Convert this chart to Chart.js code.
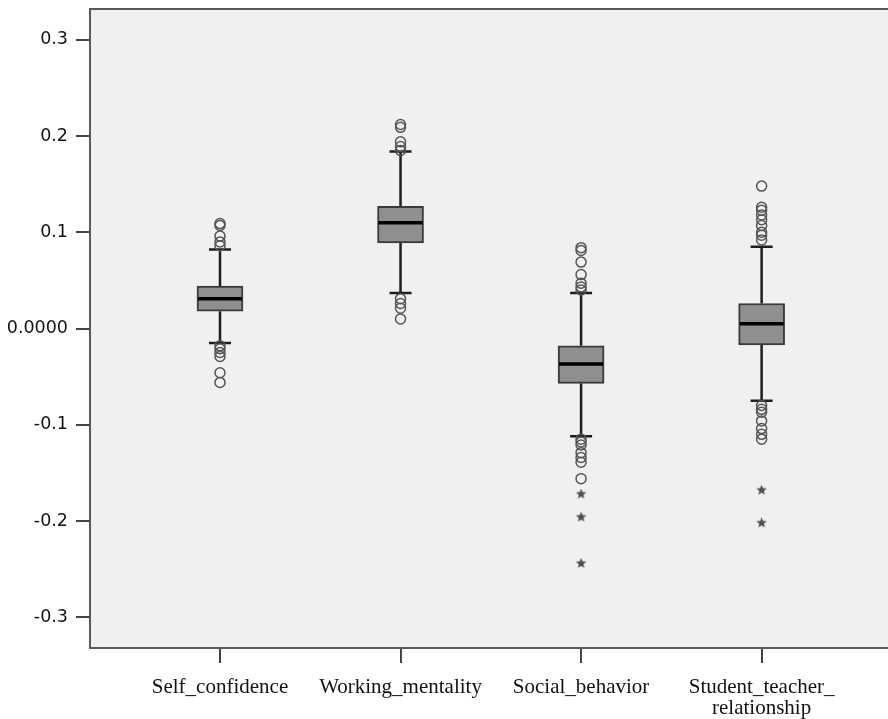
<!DOCTYPE html>
<html>
<head>
<meta charset="utf-8">
<script src="https://cdn.jsdelivr.net/npm/chart.js@4.4.1/dist/chart.umd.min.js"></script>
<style>
  html, body { margin: 0; padding: 0; background: #ffffff; }
  canvas { display: block; }
</style>
</head>
<body>
<canvas id="boxplot" width="888" height="719"></canvas>
<script>
// categorias y estadisticos
const categories = ['Self_confidence', 'Working_mentality', 'Social_behavior', ['Student_teacher_', 'relationship']];
const q1 = [0.018, 0.089, -0.057, -0.017];
const q3 = [0.044, 0.127, -0.018, 0.026];
const medians = [0.031, 0.110, -0.037, 0.005];
const whiskerLow = [-0.015, 0.037, -0.112, -0.075];
const whiskerHigh = [0.082, 0.184, 0.037, 0.085];

// valores atipicos (circulos) y extremos (estrellas)
const outliersSelf = [0.109, 0.107, 0.096, 0.090, 0.086, -0.018, -0.021, -0.025, -0.029, -0.046, -0.056];
const outliersWorking = [0.212, 0.209, 0.194, 0.189, 0.185, 0.031, 0.026, 0.021, 0.010];
const outliersSocial = [0.084, 0.081, 0.069, 0.056, 0.047, 0.043, 0.040, -0.115, -0.118, -0.121, -0.129, -0.134, -0.139, -0.156];
const outliersStudent = [0.148, 0.126, 0.123, 0.118, 0.113, 0.107, 0.100, 0.097, 0.092, -0.080, -0.084, -0.087, -0.096, -0.104, -0.110, -0.115];
const extremesSocial = [-0.172, -0.196, -0.244];
const extremesStudent = [-0.168, -0.202];

const yTicks = [-0.3, -0.2, -0.1, 0, 0.1, 0.2, 0.3];
const xTicks = [1, 2, 3, 4];

// puntos para el scatter
const circlePoints = [outliersSelf, outliersWorking, outliersSocial, outliersStudent]
  .flatMap((vals, i) => vals.map((v) => ({ x: i + 1, y: v })));
const starPoints = [[], [], extremesSocial, extremesStudent]
  .flatMap((vals, i) => vals.map((v) => ({ x: i + 1, y: v })));

// estrella pequeña para los extremos
function makeStar(size, color) {
  const c = document.createElement('canvas');
  c.width = size; c.height = size;
  const g = c.getContext('2d');
  const r = size / 2, ri = r * 0.45;
  g.beginPath();
  for (let k = 0; k < 10; k++) {
    const rad = k % 2 === 0 ? r : ri;
    const a = -Math.PI / 2 + k * Math.PI / 5;
    g.lineTo(r + rad * Math.cos(a), r + rad * Math.sin(a));
  }
  g.closePath();
  g.fillStyle = color;
  g.fill();
  return c;
}

// fondo gris y marco del area de datos
const framePlugin = {
  id: 'frame',
  beforeDraw(chart) {
    const { ctx, chartArea: a } = chart;
    ctx.save();
    ctx.fillStyle = '#f0f0f0';
    ctx.fillRect(a.left, a.top, a.right - a.left, a.bottom - a.top);
    ctx.restore();
  },
  afterDraw(chart) {
    const { ctx, chartArea: a } = chart;
    ctx.save();
    ctx.strokeStyle = '#5a5a5a';
    ctx.lineWidth = 2;
    ctx.strokeRect(a.left, a.top, a.right - a.left + 2, a.bottom - a.top);
    ctx.restore();
  }
};

// bigotes y medianas usando las escalas del grafico
const whiskerPlugin = {
  id: 'whiskers',
  beforeDatasetsDraw(chart) {
    const { ctx, scales: { x, y } } = chart;
    ctx.save();
    ctx.strokeStyle = '#1e1e1e';
    ctx.lineWidth = 2.5;
    categories.forEach((_, i) => {
      const px = x.getPixelForValue(i + 1);
      ctx.beginPath();
      ctx.moveTo(px, y.getPixelForValue(whiskerHigh[i]));
      ctx.lineTo(px, y.getPixelForValue(q3[i]));
      ctx.moveTo(px, y.getPixelForValue(q1[i]));
      ctx.lineTo(px, y.getPixelForValue(whiskerLow[i]));
      [whiskerHigh[i], whiskerLow[i]].forEach((w) => {
        const py = y.getPixelForValue(w);
        ctx.moveTo(px - 11, py);
        ctx.lineTo(px + 11, py);
      });
      ctx.stroke();
    });
    ctx.restore();
  },
  afterDatasetsDraw(chart) {
    const { ctx, scales: { x, y } } = chart;
    ctx.save();
    ctx.strokeStyle = '#000000';
    ctx.lineWidth = 3.5;
    categories.forEach((_, i) => {
      const px = x.getPixelForValue(i + 1);
      const py = y.getPixelForValue(medians[i]);
      ctx.beginPath();
      ctx.moveTo(px - 22, py);
      ctx.lineTo(px + 22, py);
      ctx.stroke();
    });
    ctx.restore();
  }
};

new Chart(document.getElementById('boxplot'), {
  type: 'bar',
  data: {
    datasets: [
      {
        type: 'bar',
        data: categories.map((_, i) => ({ x: i + 1, y: [q1[i], q3[i]] })),
        backgroundColor: '#8f8f8f',
        borderColor: '#3a3a3a',
        borderWidth: 2,
        borderSkipped: false,
        barThickness: 46,
        order: 2
      },
      {
        type: 'scatter',
        data: circlePoints,
        pointStyle: 'circle',
        pointRadius: 5,
        backgroundColor: 'rgba(0,0,0,0)',
        borderColor: '#555555',
        borderWidth: 1.5,
        order: 1
      },
      {
        type: 'scatter',
        data: starPoints,
        pointStyle: makeStar(11, '#505050'),
        pointRadius: 5,
        order: 1
      }
    ]
  },
  options: {
    responsive: false,
    animation: false,
    devicePixelRatio: 1,
    layout: { autoPadding: false, padding: 0 },
    plugins: {
      legend: { display: false },
      tooltip: { enabled: false }
    },
    scales: {
      x: {
        type: 'linear',
        offset: false,
        min: 0.28,
        max: 4.70,
        afterBuildTicks: (scale) => { scale.ticks = xTicks.map((v) => ({ value: v })); },
        afterFit: (scale) => {
          scale.height = 71;
          scale.paddingLeft = 0;
          scale.paddingRight = 0;
        },
        border: { display: false },
        grid: { offset: false, drawOnChartArea: false, drawTicks: true, tickLength: 15, color: '#444444', lineWidth: 2 },
        ticks: {
          padding: 14,
          color: '#111111',
          maxRotation: 0,
          autoSkip: false,
          font: { family: '"Liberation Serif", serif', size: 21, lineHeight: 1.0 },
          callback: (value) => categories[value - 1]
        }
      },
      y: {
        min: -0.332,
        max: 0.332,
        afterBuildTicks: (scale) => { scale.ticks = yTicks.map((v) => ({ value: v })); },
        afterFit: (scale) => {
          scale.width = 90;
          scale.paddingTop = 9;
          scale.paddingBottom = 0;
        },
        border: { display: false },
        grid: { drawOnChartArea: false, drawTicks: true, tickLength: 14, color: '#444444', lineWidth: 2 },
        ticks: {
          padding: 8,
          color: '#111111',
          font: { family: '"DejaVu Sans", sans-serif', size: 17.5 },
          callback: (value) => (value === 0 ? '0.0000' : value.toFixed(1))
        }
      }
    }
  },
  plugins: [framePlugin, whiskerPlugin]
});
</script>
</body>
</html>
